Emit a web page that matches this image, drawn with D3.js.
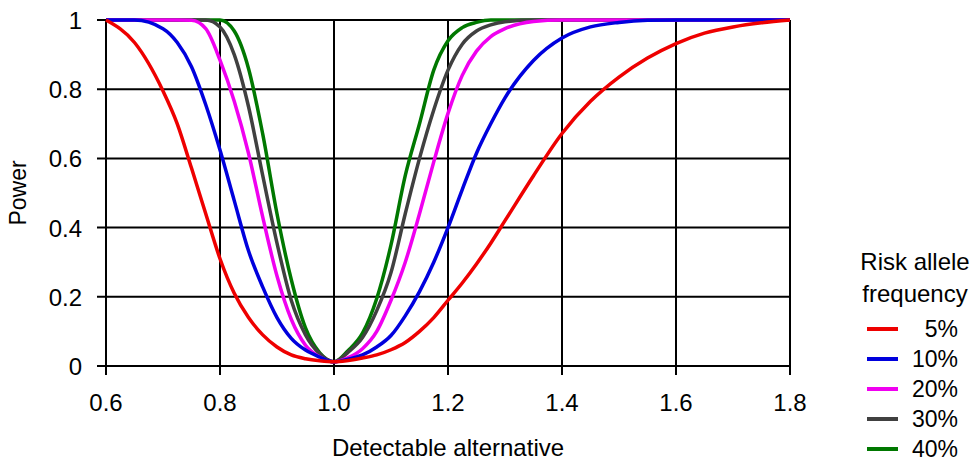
<!DOCTYPE html>
<html lang="en">
<head>
<meta charset="UTF-8">
<title>Power vs detectable alternative</title>
<script src="https://d3js.org/d3.v7.min.js"></script>
<style>
  body { margin: 0; background: #fff; }
  svg text { font-family: "Liberation Sans", Arial, sans-serif; fill: #000; }
</style>
</head>
<body>
<svg width="980" height="464"></svg>
<script>
  // detectable alternative (x) sampled along the curves
  const alternatives = [0.60, 0.65, 0.70, 0.725, 0.75, 0.775, 0.80, 0.825, 0.85, 0.875, 0.90, 0.925, 0.95, 0.975,
    1.00, 1.025, 1.05, 1.075, 1.10, 1.125, 1.15, 1.175, 1.20, 1.225, 1.25, 1.275, 1.30,
    1.35, 1.40, 1.45, 1.50, 1.55, 1.60, 1.65, 1.70, 1.75, 1.80];

  // power, one list per risk allele frequency
  const power5 = [1.00, 0.935, 0.795, 0.70, 0.572, 0.44, 0.31, 0.21, 0.14, 0.09, 0.055, 0.032, 0.021, 0.015,
    0.012, 0.016, 0.023, 0.032, 0.047, 0.068, 0.10, 0.14, 0.19, 0.24, 0.295, 0.355, 0.42,
    0.55, 0.672, 0.765, 0.835, 0.89, 0.932, 0.962, 0.98, 0.992, 1.00];
  const power10 = [1.00, 1.00, 0.975, 0.935, 0.865, 0.755, 0.624, 0.478, 0.333, 0.228, 0.14, 0.08, 0.046, 0.026,
    0.012, 0.02, 0.032, 0.055, 0.088, 0.145, 0.215, 0.30, 0.40, 0.51, 0.615, 0.70, 0.775,
    0.883, 0.948, 0.98, 0.993, 0.999, 1.00, 1.00, 1.00, 1.00, 1.00];
  const power20 = [1.00, 1.00, 1.00, 1.00, 0.999, 0.975, 0.884, 0.765, 0.615, 0.43, 0.26, 0.135, 0.06, 0.026,
    0.012, 0.024, 0.05, 0.10, 0.19, 0.30, 0.44, 0.59, 0.73, 0.84, 0.91, 0.952, 0.975,
    0.996, 1.00, 1.00, 1.00, 1.00, 1.00, 1.00, 1.00, 1.00, 1.00];
  const power30 = [1.00, 1.00, 1.00, 1.00, 1.00, 1.00, 0.98, 0.90, 0.75, 0.55, 0.355, 0.19, 0.09, 0.035,
    0.012, 0.04, 0.082, 0.16, 0.27, 0.44, 0.60, 0.74, 0.855, 0.93, 0.968, 0.986, 0.995,
    1.00, 1.00, 1.00, 1.00, 1.00, 1.00, 1.00, 1.00, 1.00, 1.00];
  const power40 = [1.00, 1.00, 1.00, 1.00, 1.00, 1.00, 1.00, 0.968, 0.86, 0.67, 0.44, 0.25, 0.11, 0.038,
    0.012, 0.045, 0.095, 0.195, 0.35, 0.55, 0.70, 0.855, 0.94, 0.978, 0.993, 1.00, 1.00,
    1.00, 1.00, 1.00, 1.00, 1.00, 1.00, 1.00, 1.00, 1.00, 1.00];

  const seriesNames = ["5%", "10%", "20%", "30%", "40%"];
  const seriesColors = ["#ee0000", "#0000dd", "#f000f0", "#404040", "#007800"];
  const xTicks = [0.6, 0.8, 1.0, 1.2, 1.4, 1.6, 1.8];
  const yTicks = [0, 0.2, 0.4, 0.6, 0.8, 1];

  const series = [power5, power10, power20, power30, power40].map((vals, i) => ({
    name: seriesNames[i],
    color: seriesColors[i],
    points: alternatives.map((a, j) => ({ x: a, y: vals[j] }))
  }));

  const svg = d3.select("svg");
  const plotLeft = 106, plotRight = 790, plotTop = 20, plotBottom = 366;

  const x = d3.scaleLinear().domain([0.6, 1.8]).range([plotLeft, plotRight]);
  const y = d3.scaleLinear().domain([0, 1]).range([plotBottom, plotTop]);

  // grid
  const grid = svg.append("g").attr("stroke", "#000").attr("stroke-width", 2);
  grid.selectAll("line.v").data(xTicks).enter().append("line")
    .attr("x1", d => x(d)).attr("x2", d => x(d))
    .attr("y1", plotTop).attr("y2", plotBottom + 9);
  grid.selectAll("line.h").data(yTicks).enter().append("line")
    .attr("x1", plotLeft - 9).attr("x2", plotRight)
    .attr("y1", d => y(d)).attr("y2", d => y(d));

  // tick labels
  svg.append("g").selectAll("text").data(xTicks).enter().append("text")
    .attr("x", d => x(d)).attr("y", 411)
    .attr("text-anchor", "middle").attr("font-size", 24)
    .text(d => d.toFixed(1));
  svg.append("g").selectAll("text").data(yTicks).enter().append("text")
    .attr("x", 82).attr("y", d => y(d) + 9)
    .attr("text-anchor", "end").attr("font-size", 24)
    .text(d => d === 0 || d === 1 ? d : d.toFixed(1));

  // axis titles
  svg.append("text").attr("x", (plotLeft + plotRight) / 2).attr("y", 456)
    .attr("text-anchor", "middle").attr("font-size", 24)
    .text("Detectable alternative");
  svg.append("text").attr("transform", "translate(26,193) rotate(-90)")
    .attr("text-anchor", "middle").attr("font-size", 23)
    .text("Power");

  // curves, red drawn last so it sits on top
  const line = d3.line().x(d => x(d.x)).y(d => y(d.y)).curve(d3.curveMonotoneX);
  svg.append("g").selectAll("path").data(series.slice().reverse()).enter().append("path")
    .attr("d", d => line(d.points))
    .attr("fill", "none")
    .attr("stroke", d => d.color)
    .attr("stroke-width", 3.5)
    .attr("stroke-linejoin", "round");

  // legend
  const lg = svg.append("g");
  lg.append("text").attr("x", 915).attr("y", 270).attr("text-anchor", "middle")
    .attr("font-size", 24).text("Risk allele");
  lg.append("text").attr("x", 915).attr("y", 302).attr("text-anchor", "middle")
    .attr("font-size", 24).text("frequency");
  const legendY = d3.scalePoint().domain(seriesNames).range([329, 449]);
  const items = lg.selectAll("g.item").data(series).enter().append("g")
    .attr("transform", d => `translate(0,${legendY(d.name)})`);
  items.append("line").attr("x1", 867).attr("x2", 898)
    .attr("stroke", d => d.color).attr("stroke-width", 4);
  items.append("text").attr("x", 958).attr("y", 8).attr("text-anchor", "end")
    .attr("font-size", 23).text(d => d.name);
</script>
</body>
</html>
